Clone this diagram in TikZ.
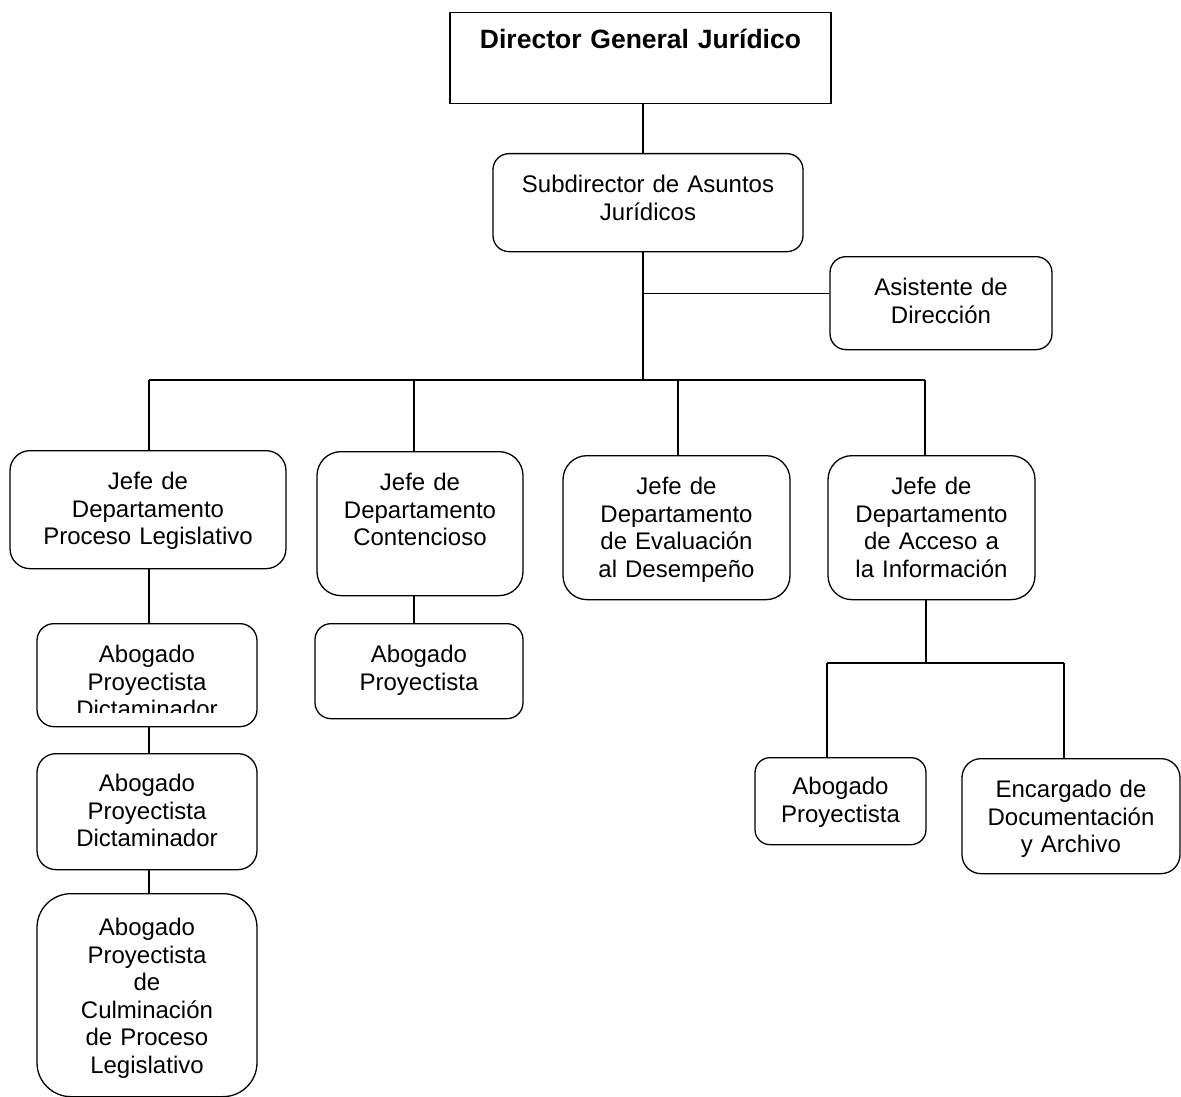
\documentclass[tikz,border=0pt]{standalone}
\usepackage{fontspec}
\setmainfont{Liberation Sans}
\usepackage{tikz}
\usetikzlibrary{positioning,calc}

\begin{document}
\begin{tikzpicture}[x=1pt, y=-1pt, line width=1.3pt,
    font=\fontsize{24}{27.5}\selectfont,
    box/.style={draw, rounded corners=#1, anchor=north, align=center,
                inner sep=0pt, text height=39pt}]
  \useasboundingbox (0,0) rectangle (1181,1097);

  % Nodes
  \node[draw, anchor=north, align=center, inner sep=0pt, text height=36pt,
        text width=381pt, text depth=55pt,
        font=\fontsize{26.5}{30}\selectfont\bfseries] (dir) at (640.5,12) {Director General Jurídico};
  \node[box=16pt, text width=310pt, text depth=59pt] (sub) at (648,153) {Subdirector de Asuntos\\Jurídicos};
  \node[box=16pt, text width=222pt, text depth=54pt] (asi) at (941,256) {Asistente de\\Dirección};

  \node[box=20pt, text width=276pt, text depth=79pt] (jpl) at (148,450) {Jefe de\\Departamento\\Proceso Legislativo};
  \node[box=24pt, text width=206pt, text depth=105pt] (jc) at (420,451) {Jefe de\\Departamento\\Contencioso};
  \node[box=24pt, text width=227pt, text depth=105pt] (je) at (676.5,455) {Jefe de\\Departamento\\de Evaluación\\al Desempeño};
  \node[box=24pt, text width=207pt, text depth=105pt] (ja) at (931.5,455) {Jefe de\\Departamento\\de Acceso a\\la Información};

  % first box: last line is cut off
  \node[box=17pt, text width=220pt, text depth=64pt] (ap1) at (147,623) {};
  \begin{scope}
    \clip (ap1.north west) rectangle ([yshift=15pt]ap1.south east);
    \node[box=17pt, draw=none, text width=220pt, text depth=64pt] (ap1-txt) at (ap1.north) {Abogado\\Proyectista\\Dictaminador};
  \end{scope}
  \node[box=19pt, text width=220pt, text depth=78pt, text height=38pt] (ap2) at (147,753) {Abogado\\Proyectista\\Dictaminador};
  \node[box=34pt, text width=220pt, text depth=161pt, text height=42pt] (ap3) at (147,893) {Abogado\\Proyectista\\de\\Culminación\\de Proceso\\Legislativo};

  \node[box=16pt, text width=208pt, text depth=56pt] (apc) at (419,623) {Abogado\\Proyectista};

  \node[box=15pt, text width=171pt, text depth=50pt, text height=37pt] (apr) at (840.5,757) {Abogado\\Proyectista};
  \node[box=19pt, text width=218pt, text depth=76pt] (enc) at (1071,758) {Encargado de\\Documentación\\y Archivo};

  % Branch points
  \coordinate (trunk) at (643,380);
  \coordinate (asi-in) at ([yshift=10pt]asi.west);
  \coordinate (drop-pl) at (149,380);
  \coordinate (drop-c) at (414,380);
  \coordinate (drop-e) at (678,380);
  \coordinate (drop-a) at (925,380);
  \coordinate (split) at (926,663);
  \coordinate (split-l) at (827,663);
  \coordinate (split-r) at (1064,663);

  % Connectors
  \draw (dir.south -| trunk) -- (sub.north -| trunk);
  \draw (sub.south -| trunk) -- (trunk);
  \draw (asi-in -| trunk) -- (asi-in);
  \draw (drop-pl) -- (drop-a);
  \draw (drop-pl) -- (jpl.north -| drop-pl);
  \draw (drop-c) -- (jc.north -| drop-c);
  \draw (drop-e) -- (je.north -| drop-e);
  \draw (drop-a) -- (ja.north -| drop-a);

  \draw (jpl.south -| drop-pl) -- (ap1.north -| drop-pl);
  \draw (ap1.south -| drop-pl) -- (ap2.north -| drop-pl);
  \draw (ap2.south -| drop-pl) -- (ap3.north -| drop-pl);
  \draw (jc.south -| drop-c) -- (apc.north -| drop-c);

  \draw (ja.south -| split) -- (split);
  \draw (split-l) -- (split-r);
  \draw (split-l) -- (apr.north -| split-l);
  \draw (split-r) -- (enc.north -| split-r);
\end{tikzpicture}
\end{document}
